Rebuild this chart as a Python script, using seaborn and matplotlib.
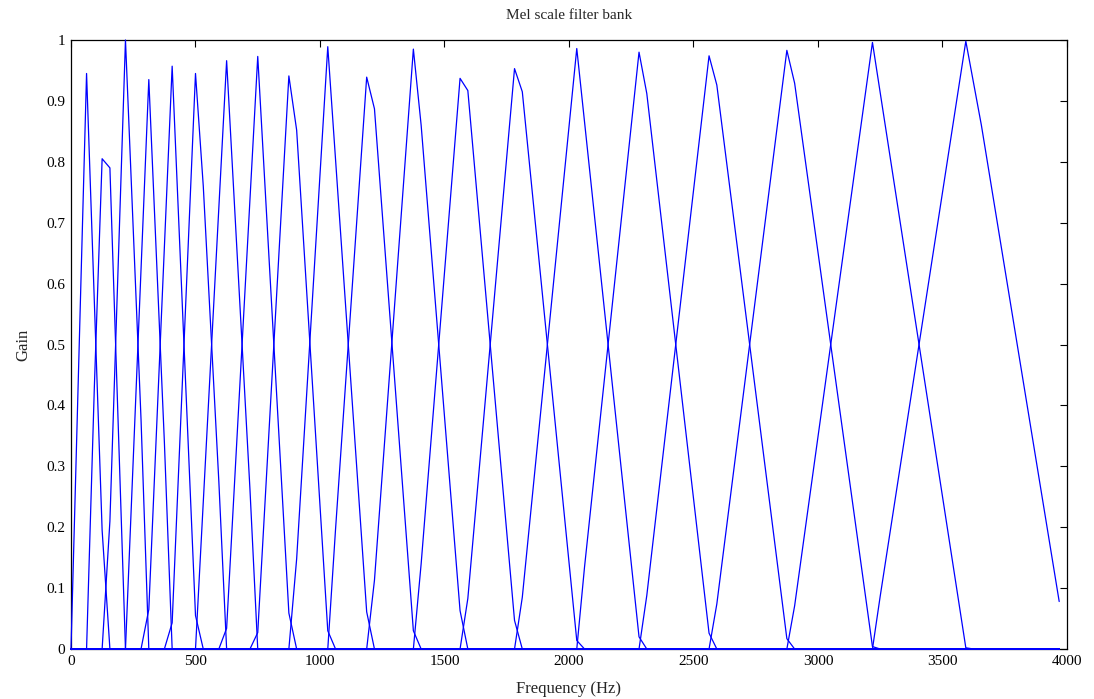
# Mel scale filter bank - triangular filters sampled on a 31.25 Hz grid

import matplotlib
matplotlib.use('Agg')
import matplotlib.pyplot as plt
import pandas as pd
import seaborn as sns

# frequency range covered by the sampled bins (Hz)
F_START = 0.0
F_END = 3968.75

# corner points of each filter (Hz, gain)
FILTER_FREQS = [
    [0, 62.5, 93.75, 125, 156.25],
    [62.5, 93.75, 125, 156.25, 218.75],
    [125, 156.25, 218.75, 281.25, 312.5],
    [218.75, 312.5, 375, 406.25],
    [281.25, 312.5, 406.25, 500, 531.25],
    [375, 406.25, 500, 531.25, 593.75, 625],
    [500, 625, 718.75, 750],
    [593.75, 625, 750, 875, 906.25],
    [718.75, 750, 875, 906.25, 1031.25, 1062.5],
    [875, 906.25, 1031.25, 1187.5, 1218.75],
    [1031.25, 1062.5, 1187.5, 1218.75, 1375, 1406.25],
    [1187.5, 1218.75, 1375, 1406.25, 1562.5, 1593.75],
    [1375, 1406.25, 1562.5, 1593.75, 1781.25, 1812.5],
    [1562.5, 1593.75, 1781.25, 1812.5, 2031.25, 2062.5],
    [1781.25, 1812.5, 2031.25, 2281.25, 2312.5],
    [2031.25, 2062.5, 2281.25, 2312.5, 2562.5, 2593.75],
    [2281.25, 2312.5, 2562.5, 2593.75, 2875, 2906.25],
    [2562.5, 2593.75, 2875, 2906.25, 3218.75, 3250],
    [2875, 2906.25, 3218.75, 3593.75, 3625],
    [3218.75, 3250, 3593.75, 3656.25, 3968.75],
]
FILTER_GAINS = [
    [0, 0.945, 0.57, 0.195, 0],
    [0, 0.43, 0.805, 0.79, 0],
    [0, 0.21, 1.0, 0.377, 0],
    [0, 0.935, 0.34, 0],
    [0, 0.065, 0.957, 0.055, 0],
    [0, 0.043, 0.945, 0.76, 0.275, 0],
    [0, 0.966, 0.262, 0],
    [0, 0.034, 0.973, 0.059, 0],
    [0, 0.027, 0.941, 0.852, 0.03, 0],
    [0, 0.148, 0.989, 0.061, 0],
    [0, 0.197, 0.939, 0.887, 0.03, 0],
    [0, 0.113, 0.985, 0.86, 0.063, 0],
    [0, 0.14, 0.937, 0.917, 0.047, 0],
    [0, 0.083, 0.953, 0.915, 0.014, 0],
    [0, 0.085, 0.986, 0.02, 0],
    [0, 0.135, 0.98, 0.912, 0.026, 0],
    [0, 0.088, 0.974, 0.926, 0.017, 0],
    [0, 0.074, 0.983, 0.929, 0.004, 0],
    [0, 0.071, 0.996, 0.002, 0],
    [0, 0.087, 0.998, 0.86, 0.078],
]

X_TICKS = [0, 500, 1000, 1500, 2000, 2500, 3000, 3500, 4000]
Y_TICKS = [0, 0.1, 0.2, 0.3, 0.4, 0.5, 0.6, 0.7, 0.8, 0.9, 1]
Y_TICK_LABELS = ['0', '0.1', '0.2', '0.3', '0.4', '0.5', '0.6', '0.7', '0.8', '0.9', '1']


def build_frame():
    rows = []
    for i, (freqs, gains) in enumerate(zip(FILTER_FREQS, FILTER_GAINS)):
        xs = list(freqs)
        ys = list(gains)
        # every filter is zero over the rest of the band
        if xs[0] > F_START:
            xs = [F_START] + xs
            ys = [0] + ys
        if xs[-1] < F_END:
            xs = xs + [F_END]
            ys = ys + [0]
        for x, y in zip(xs, ys):
            rows.append({'filter': i, 'freq': x, 'gain': y})
    return pd.DataFrame(rows)


def main():
    df = build_frame()

    sns.set_theme(style='white')
    plt.rcParams['font.family'] = ['Liberation Serif', 'DejaVu Serif']

    fig = plt.figure(figsize=(10.94, 6.99), dpi=100)
    ax = fig.add_axes([0.0649, 0.0715, 0.9104, 0.8713])

    sns.lineplot(data=df, x='freq', y='gain', units='filter', estimator=None,
                 color='#0000ff', linewidth=0.9, legend=False, sort=False, ax=ax)
    for line in ax.lines:
        line.set_clip_on(False)
        line.set_zorder(3)

    ax.set_xlim(0, 4000)
    ax.set_ylim(0, 1)
    ax.set_xticks(X_TICKS)
    ax.set_yticks(Y_TICKS)
    ax.set_yticklabels(Y_TICK_LABELS)
    ax.tick_params(direction='in', top=True, right=True, length=5, width=0.8,
                   labelsize=11, colors='black', pad=4)
    for spine in ax.spines.values():
        spine.set_color('black')
        spine.set_linewidth(0.9)

    ax.set_title('Mel scale filter bank', fontsize=11, pad=15)
    ax.set_xlabel('Frequency (Hz)', fontsize=12, labelpad=10)
    ax.set_ylabel('Gain', fontsize=12, labelpad=11)

    fig.savefig('out.png', dpi=100, facecolor='white')
    plt.close(fig)


if __name__ == '__main__':
    main()
